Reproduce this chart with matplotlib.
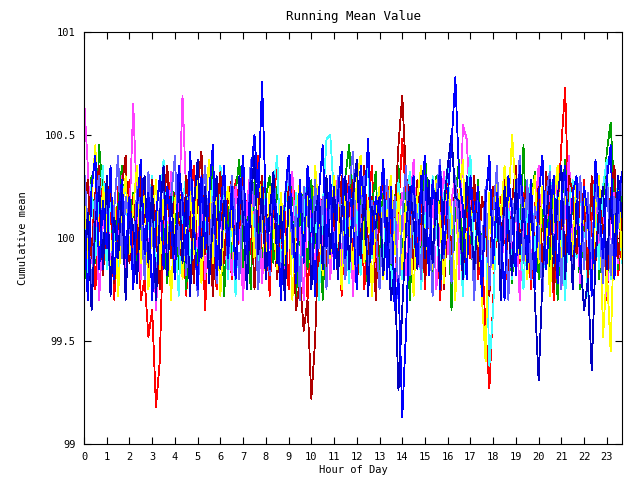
"""Running mean value per hour of day, gnuplot look."""

import numpy as np
import matplotlib
matplotlib.use('Agg')
import matplotlib.pyplot as plt


# Data: offsets from 100 in hundredths, one point every 10 minutes
# ----------------------------------------------------------------

hours_step = 1 / 6.0  # 10 minute sampling

red = [
    20, -15, 30, -25, 8, 35, -10, 18, -30, 25, 5, -20, 28,
    -10, 22, -30, -20, -48, -35, -82, -60, 10, 15, 30, -12, 25,
    8, -28, 20, 35, -15, 10, -35, 22, 5, -25, 30, -8, 15,
    -20, 28, 12, -30, 18, -8, 25, 40, -15, 10, -28, 20, 35,
    -12, 15, -25, 30, 8, -20, 22, -30, 12, 28, -15, 5, -22,
    25, -10, 18, -28, 12, 30, -18, 8, 22, -25, 15, 35, -12,
    10, -20, 28, 5, -30, 15, 48, 20, -15, 25, -8, 30, -25,
    18, -12, 25, -30, 10, 32, -18, 22, 8, -25, 15, -10, 28,
    -20, -5, -45, -73, -30, 10, 20, 5, -28, 18, 30, -12, 22,
    8, -25, 15, 30, -18, 22, 5, -30, 10, 45, 73, 5, -10,
    20, -15, 28, -22, 10, 35, -8, 18, -30, 12, 25, -18, 5]

green = [
    -25, 10, 30, -12, 45, 20, -8, 25, -20, 15, 35, -15, 8,
    22, -18, 12, 28, -10, 20, -30, 15, 5, -22, 30, 10, -15,
    18, -25, 25, 8, -12, 30, -20, 12, 35, -8, 20, -28, 15,
    -10, 22, 38, -15, 12, -25, 28, 5, -18, 20, 30, -12, 25,
    8, -20, 15, 32, -28, 10, 22, -15, 28, -5, 18, -30, 12,
    25, -12, 20, -25, 30, 45, 10, -18, 22, 8, -28, 15, 32,
    -15, 28, 5, -20, 18, 35, -10, 22, -30, 12, 25, -8, 40,
    15, -22, 30, 10, -15, 25, -35, 18, 38, -12, 20, 5, -25,
    28, -10, 15, -28, 22, 8, -18, 30, 12, -22, 25, -5, 45,
    -12, 18, 32, -20, 10, 25, -15, 28, -30, 15, 38, -8, 20,
    10, -25, 22, 15, -12, 30, -20, 18, 42, 56, 20, -15, 25]

magenta = [
    68, 35, -12, 20, -30, 8, 25, -18, 12, -5, 30, -22, 10,
    65, 15, -20, 28, -8, 22, -35, 5, 18, -15, 32, -10, 8,
    69, 20, -25, 12, -5, 30, -20, 15, -28, 10, 22, -12, 5,
    -18, 25, 8, -30, 15, 35, -10, 20, -22, 12, -5, 28, -15,
    10, -25, 18, 32, -12, 5, -30, 22, 8, -18, 25, -8, 15,
    -20, 12, 30, -15, 8, 25, -28, 18, -5, 35, -12, 10, -22,
    15, 28, -10, 20, -30, 8, 22, -18, 12, 38, -15, 5, 25,
    -12, 20, -25, 10, 32, -8, 18, 30, -20, 55, 48, 12, -15,
    22, -10, 8, -28, 15, 30, -18, 5, 25, -12, 18, -30, 10,
    28, -15, 12, 35, -20, 8, 22, -10, 30, -25, 15, 40, -8,
    12, -22, 25, 8, -15, 30, -5, 18, -28, 10, 22, -12, 15]

cyan = [
    12, -20, 28, -10, 18, 35, -15, 22, 8, -25, 15, 30, -12,
    20, -8, 25, -18, 10, 30, -22, 15, 38, -12, 22, 5, -28,
    18, 30, -15, 12, -25, 22, 8, -18, 28, -10, 35, 15, -20,
    10, -28, 22, 35, -12, 18, 5, -20, 30, 12, -15, 25, 40,
    -18, 15, 28, -10, 22, -25, 12, 30, -8, 20, -30, 15, 48,
    50, 20, -15, 25, 8, -22, 30, 12, -18, 22, 35, -10, 15,
    25, -12, 18, -30, 10, 28, -20, 15, 32, -8, 22, -25, 12,
    -15, 30, 8, -22, 20, 35, -10, 25, 12, -28, 18, 40, -12,
    22, -15, 10, -62, -35, 18, -10, 28, 15, -20, 30, 8, -25,
    15, 28, -12, 20, -25, 10, 35, -18, 22, 5, -30, 18, 28,
    -10, 22, 15, -28, 30, 12, -15, 25, 38, -20, 10, 28, -12]

darkred = [
    15, 28, -10, 22, 35, -18, 12, 30, -22, 8, 25, 40, -12,
    20, -8, 32, 15, -20, 28, 5, -25, 18, 35, -10, 22, 8,
    -15, 30, 12, -22, 25, 42, -8, 18, -28, 10, 32, -12, 20,
    28, -18, 10, 35, -5, 20, -25, 15, 30, -10, 22, 8, -20,
    12, -28, 25, 5, -35, -20, -45, -30, -78, -50, 5, 20, -15,
    22, 8, -18, 30, -12, 15, 28, -25, 10, 35, -8, 20, -30,
    15, 30, -10, 25, 10, 45, 69, 30, 20, -15, 28, 8, -20,
    25, -12, 18, 32, -25, 10, -8, 28, 15, -20, 22, 5, 30,
    -15, 20, 8, -28, 25, 12, -10, 30, -22, 18, 35, -5, 15,
    28, -20, 12, 25, -15, 32, 8, -25, 20, 10, -12, 30, 22,
    -8, 25, 15, -20, 30, -12, 18, 5, -25, 22, 35, -10, 12]

yellow = [
    30, -10, 20, 45, -15, 25, 8, -20, 18, -28, 12, 30, -8,
    15, 35, -12, 22, -25, 10, 28, -15, 20, 5, -30, 18, 32,
    -20, 12, 25, -8, 30, -22, 15, 38, -12, 20, -28, 10, 25,
    8, -18, 28, 12, -25, 20, -10, 32, 15, -20, 25, 5, -15,
    22, -12, 18, -30, 10, 28, -8, 20, -22, 35, 12, -18, 25,
    -10, 30, 15, -25, 20, 8, -15, 28, 40, -12, 18, -28, 10,
    25, -20, 12, 30, -8, 22, -15, 18, 5, -28, 20, 35, -10,
    18, -15, 28, 8, -22, 25, 12, -30, 20, 38, -12, 15, -25,
    10, -28, -60, 22, -15, 28, 10, 35, 15, 50, 20, -10, 18,
    -20, 15, 30, -12, 25, 8, -28, 18, 35, -15, 22, 10, -8,
    28, -12, 20, 8, -25, 15, 30, -48, -15, -55, 12, 25, -10]

periwinkle = [
    35, 5, -25, 18, 30, -12, 22, -28, 15, 40, -10, 20, 8,
    -15, 25, 12, -20, 32, 8, -30, 18, 28, -12, 20, 40, -8,
    22, -18, 30, 10, -28, 15, 35, -10, 20, -22, 12, 28, -15,
    30, 8, -20, 25, -12, 38, 15, -25, 20, 10, -18, 32, 5,
    -22, 20, 35, -8, 15, -30, 25, 12, -15, 28, -5, 20, -25,
    18, -12, 30, 8, -20, 25, 42, -15, 12, 30, -22, 18, 5,
    -25, 15, 28, -12, 20, -30, 10, 35, -18, 25, 8, -20, 30,
    12, -28, 22, 38, -10, 18, -22, 30, 5, -15, 28, 12, -30,
    20, -8, 25, -25, 12, 35, -15, 22, -30, 18, 8, 40, -12,
    28, -20, 15, 5, -28, 22, 32, -12, 18, -25, 30, 10, -18,
    15, 30, -15, 22, -10, 28, 8, -22, 35, -18, 20, 5, 30]

navy = [
    -20, 12, -35, 8, 25, -15, 30, -28, 10, -10, 22, -30, 15,
    5, -22, 18, 30, -12, 25, -30, 10, 35, -18, 20, -8, 28,
    -12, 20, -28, 15, 38, -10, 25, -22, 8, 30, -15, 18, -5,
    22, -15, 30, 10, -25, 18, 40, -8, 25, -20, 12, 32, -12,
    15, -30, 20, 8, -18, 28, -10, 35, -25, 12, 22, -15, 30,
    -8, 25, -20, 12, 30, -15, 20, 38, -10, 25, -28, 15, 5,
    20, -18, 10, -30, -15, -74, -35, 5, 25, 8, -15, 30, -10,
    28, -12, 22, -25, 15, 35, 50, 20, 18, -20, 30, 10, -15,
    12, -25, 20, 35, -10, 18, -30, 25, 5, -18, 28, -8, 15,
    -15, 22, -30, -69, -20, 10, 28, -12, 20, 35, -20, 15, -25,
    18, -10, -35, -20, -64, -10, 12, 25, -15, 20, -8, 30, 10]

blue = [
    10, -30, 25, 40, -15, 18, -5, 35, -20, 12, 28, -10, 20,
    -25, 15, 38, -8, 22, -30, 10, 30, -15, 25, 5, -20, 35,
    18, -12, 42, 8, -25, 30, -5, 20, 45, -18, 12, 35, -10,
    25, -20, 15, 40, -8, 30, 50, 20, 76, 15, -15, 22, 10,
    -30, 18, 40, 5, -22, 28, -12, 35, 15, -28, 22, 45, -5,
    30, -15, 20, 42, -10, 25, 8, -25, 35, 15, 48, -8, 20,
    12, 38, -20, 25, -35, -20, -87, -45, 15, 30, -12, 22, 40,
    -18, 28, 10, 35, -8, 20, 45, 78, 30, 15, -20, 30, 8,
    25, -28, 18, 40, -12, 22, 5, -30, 30, 12, -18, 35, 15,
    -10, 28, -25, 20, 40, -15, 12, 30, -22, 18, 35, -8, 22,
    30, -15, 25, 10, -28, 38, 15, -10, 28, 45, -20, 18, 32]

series = [
    (red, '#ff0000'),
    (green, '#00a000'),
    (magenta, '#ff40ff'),
    (cyan, '#40ffff'),
    (darkred, '#b00000'),
    (yellow, '#ffff00'),
    (periwinkle, '#6060ff'),
    (navy, '#0000c0'),
    (blue, '#0000ff'),
]

yticks = [99, 99.5, 100, 100.5, 101]
yticklabels = ['99', '99.5', '100', '100.5', '101']
xticks = list(range(24))


# Figure
# ------

plt.rcParams['font.family'] = 'DejaVu Sans Mono'
plt.rcParams['font.size'] = 7.5

fig = plt.figure(figsize=(6.4, 4.8), dpi=100)
ax = fig.add_axes([84/640, 36/480, 538/640, 412/480])

for values, color in series:
    y = 100 + np.array(values) / 100.0
    x = np.arange(len(y)) * hours_step
    ax.plot(x, y, color=color, lw=0.6, antialiased=False)

ax.set_xlim(0, 142 * hours_step)
ax.set_ylim(99, 101)
ax.set_xticks(xticks)
ax.set_yticks(yticks)
ax.set_yticklabels(yticklabels)
ax.tick_params(direction='in', length=5, width=0.8, top=True, right=True,
               pad=6)
for spine in ax.spines.values():
    spine.set_linewidth(0.8)

ax.set_title('Running Mean Value', pad=9)
ax.set_xlabel('Hour of Day', labelpad=2)
ax.set_ylabel('Cumulative mean', labelpad=12)

fig.savefig('out.png', dpi=100)
